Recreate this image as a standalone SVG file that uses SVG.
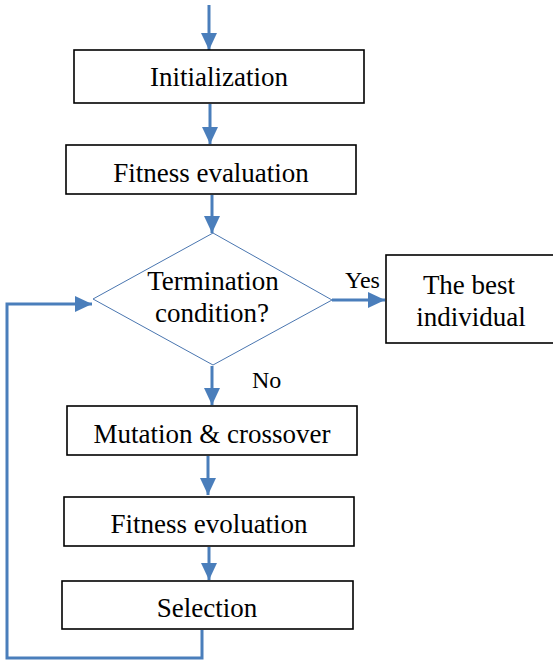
<svg xmlns="http://www.w3.org/2000/svg" width="553" height="661" viewBox="0 0 553 661">
<style>
.box{fill:#fff;stroke:#000;stroke-width:1.6}
.dia{fill:#fff;stroke:#4a76b0;stroke-width:1}
text{font-family:'Liberation Serif','Times New Roman',serif;fill:#000}
.t{font-size:27px;text-anchor:middle}
.lbl{font-size:24px}
.c{fill:none;stroke:#4a7ebb;stroke-width:3;marker-end:url(#ah)}
</style>
<defs>
<marker id="ah" markerUnits="userSpaceOnUse" markerWidth="17" markerHeight="16" refX="17" refY="8" orient="auto">
<path d="M0,0 L17,8 L0,16 Z" fill="#4a7ebb"/>
</marker>
</defs>
<rect width="553" height="661" fill="#fff"/>
<g id="connectors">
<path class="c" d="M209,5 V50"/>
<path class="c" d="M210,104 V144"/>
<path class="c" d="M212,195 V233"/>
<path class="c" d="M332,300 H385"/>
<path class="c" d="M212,366 V405"/>
<path class="c" d="M208,456 V495"/>
<path class="c" d="M209,547 V580"/>
<path class="c" d="M202,630 V658 H7 V304 H92"/>
</g>
<g id="init"><rect class="box" x="74" y="50" width="290" height="53"/><text class="t" x="219" y="86">Initialization</text></g>
<g id="fitness1"><rect class="box" x="66" y="145" width="290" height="49"/><text class="t" x="211" y="182">Fitness evaluation</text></g>
<g id="termination"><path class="dia" d="M213,233 L332,300 L213,365 L93,299 Z"/><text class="t" x="213" y="290">Termination</text><text class="t" x="212" y="322">condition?</text></g>
<g id="best"><rect class="box" x="386" y="255" width="172" height="88"/><text class="t" x="469" y="294">The best</text><text class="t" x="471" y="326">individual</text></g>
<g id="mutation"><rect class="box" x="67" y="406" width="290" height="49"/><text class="t" x="212" y="443">Mutation &amp; crossover</text></g>
<g id="fitness2"><rect class="box" x="64" y="497" width="290" height="49"/><text class="t" x="209" y="533">Fitness evoluation</text></g>
<g id="selection"><rect class="box" x="62" y="581" width="291" height="48"/><text class="t" x="207" y="617">Selection</text></g>
<g id="labels"><text class="lbl" x="345" y="288">Yes</text><text class="lbl" x="252" y="388">No</text></g>
</svg>
